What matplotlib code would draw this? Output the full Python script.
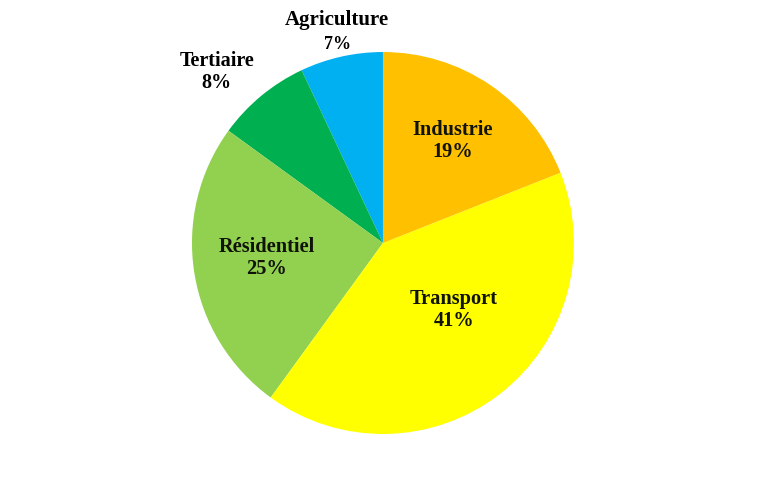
import matplotlib
matplotlib.use("Agg")
import matplotlib.pyplot as plt

# Energy consumption by sector (%), counter-clockwise from 12 o'clock
sectors = ["Agriculture", "Tertiaire", "Résidentiel", "Transport", "Industrie"]
shares = [7, 8, 25, 41, 19]
colors = ["#00B0F0", "#00B050", "#92D050", "#FFFF00", "#FFC000"]

fig = plt.figure(figsize=(7.67, 4.86), dpi=100)
ax = fig.add_axes([0.2503, 0.107, 0.498, 0.786])

ax.pie(shares, colors=colors, startangle=90, counterclock=True,
       wedgeprops=dict(linewidth=0))
ax.set_xlim(-1, 1)
ax.set_ylim(-1, 1)
ax.set_aspect("equal")
ax.axis("off")

serif = "Liberation Serif"
txt = "#101408"

# labels inside the big slices
inside = {"Industrie": (0.366, 0.534), "Transport": (0.37, -0.35), "Résidentiel": (-0.61, -0.08)}
for name, (x, y) in inside.items():
    pct = shares[sectors.index(name)]
    ax.text(x, y, f"{name}\n{pct}%", ha="center", va="center",
            fontsize=14.7, fontweight="bold", family=serif,
            linespacing=1.12, color=txt)

# small slices, labels outside (black text)
i = sectors.index("Tertiaire")
ax.text(-0.87, 0.895, f"{sectors[i]}\n{shares[i]}%", ha="center", va="center",
        fontsize=14.5, fontweight="bold", family=serif, linespacing=1.12,
        color="black", clip_on=False)

i = sectors.index("Agriculture")
ax.text(-0.24, 1.17, sectors[i], ha="center", va="center", fontsize=15,
        family=serif, fontweight="bold", color="black", clip_on=False)
ax.text(-0.24, 1.04, f"{shares[i]}%", ha="center", va="center", fontsize=13,
        family=serif, fontweight="bold", color="black", clip_on=False)

fig.savefig("out.png", dpi=100, transparent=True)
